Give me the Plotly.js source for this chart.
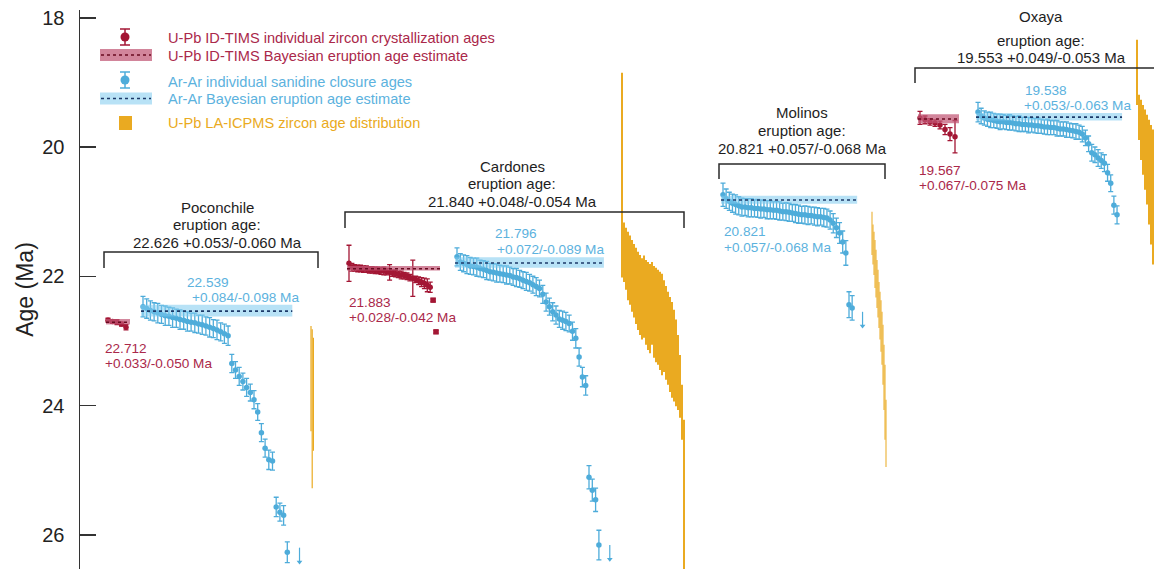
<!DOCTYPE html>
<html><head><meta charset="utf-8">
<script src="https://cdn.plot.ly/plotly-3.0.1.min.js"></script>
<style>html,body{margin:0;padding:0;background:#fff}#chart{width:1154px;height:569px}</style>
</head><body><div id="chart"></div>
<script>
// ================= DATA =================
const localities = ['Poconchile', 'Cardones', 'Molinos', 'Oxaya'];
const eruptionAge   = [22.626, 21.840, 20.821, 19.553];
const eruptionPlus  = [0.053, 0.048, 0.057, 0.049];
const eruptionMinus = [0.060, 0.054, 0.068, 0.053];

// U-Pb ID-TIMS Bayesian eruption estimates (null = no data)
const timsBayes = [22.712, 21.883, null, 19.567];
const timsPlus  = [0.033, 0.028, null, 0.067];
const timsMinus = [0.050, 0.042, null, 0.075];
// Ar-Ar Bayesian eruption estimates
const arBayes = [22.539, 21.796, 20.821, 19.538];
const arPlus  = [0.084, 0.072, 0.057, 0.053];
const arMinus = [0.098, 0.089, 0.068, 0.063];

// U-Pb ID-TIMS individual zircon ages (Ma) and 2σ
const pocTimsAge = [22.68, 22.70, 22.71, 22.74, 22.79];
const pocTimsErr = [0.03, 0.03, 0.04, 0.03, 0.04];
const carTimsAge = [21.80, 21.86, 21.87, 21.88, 21.88, 21.89, 21.89, 21.90, 21.90, 21.91, 21.91, 21.92, 21.92, 21.93, 21.94, 21.95, 21.96, 21.97, 21.98, 21.99, 22.00, 22.02, 22.03, 22.05, 22.07, 22.09, 22.11, 22.14, 22.17, 22.37, 22.86];
const carTimsErr = [0.28, 0.06, 0.05, 0.05, 0.05, 0.05, 0.05, 0.05, 0.05, 0.05, 0.05, 0.05, 0.06, 0.05, 0.12, 0.05, 0.05, 0.05, 0.06, 0.05, 0.05, 0.05, 0.28, 0.05, 0.06, 0.07, 0.08, 0.10, 0.08, 0.02, 0.02];
const oxaTimsAge = [19.55, 19.58, 19.61, 19.63, 19.66, 19.73, 19.80, 19.84];
const oxaTimsErr = [0.10, 0.06, 0.05, 0.05, 0.06, 0.08, 0.10, 0.25];

// Ar-Ar individual sanidine ages (Ma) and 2σ
const pocArAge = [22.47, 22.50, 22.53, 22.55, 22.57, 22.59, 22.61, 22.62, 22.64, 22.65, 22.67, 22.68, 22.70, 22.71, 22.72, 22.74, 22.75, 22.77, 22.79, 22.81, 22.83, 22.86, 22.89, 22.92, 23.35, 23.45, 23.55, 23.63, 23.72, 23.80, 23.91, 24.10, 24.42, 24.66, 24.84, 24.86, 25.57, 25.65, 25.70, 26.27];
const pocArErr = [0.16, 0.15, 0.15, 0.14, 0.15, 0.14, 0.15, 0.14, 0.15, 0.14, 0.15, 0.14, 0.15, 0.14, 0.15, 0.14, 0.15, 0.14, 0.15, 0.14, 0.15, 0.14, 0.15, 0.15, 0.14, 0.13, 0.14, 0.13, 0.14, 0.13, 0.14, 0.13, 0.14, 0.14, 0.15, 0.14, 0.15, 0.14, 0.15, 0.16];
const carArAge = [21.70, 21.78, 21.80, 21.82, 21.84, 21.85, 21.86, 21.88, 21.89, 21.91, 21.93, 21.94, 21.95, 21.96, 21.97, 21.98, 21.99, 22.01, 22.02, 22.04, 22.06, 22.08, 22.10, 22.13, 22.16, 22.19, 22.28, 22.40, 22.47, 22.55, 22.60, 22.66, 22.68, 22.70, 22.73, 22.85, 22.96, 23.25, 23.56, 23.69, 25.11, 25.31, 25.46, 26.16];
const carArErr = [0.14, 0.13, 0.13, 0.14, 0.13, 0.13, 0.14, 0.13, 0.13, 0.14, 0.13, 0.13, 0.14, 0.13, 0.13, 0.14, 0.13, 0.13, 0.14, 0.13, 0.13, 0.14, 0.13, 0.13, 0.14, 0.13, 0.14, 0.14, 0.13, 0.14, 0.14, 0.13, 0.14, 0.14, 0.13, 0.14, 0.15, 0.14, 0.15, 0.15, 0.18, 0.17, 0.18, 0.23];
const molArAge = [20.74, 20.80, 20.84, 20.87, 20.89, 20.91, 20.93, 20.93, 20.94, 20.94, 20.95, 20.95, 20.96, 20.96, 20.97, 20.97, 20.98, 20.98, 20.99, 21.00, 21.00, 21.01, 21.02, 21.03, 21.04, 21.05, 21.05, 21.06, 21.06, 21.07, 21.08, 21.08, 21.09, 21.10, 21.13, 21.18, 21.25, 21.33, 21.47, 21.64, 22.44, 22.49];
const molArErr = [0.18, 0.15, 0.14, 0.14, 0.15, 0.14, 0.14, 0.13, 0.14, 0.14, 0.13, 0.14, 0.14, 0.13, 0.14, 0.14, 0.13, 0.14, 0.14, 0.13, 0.14, 0.14, 0.13, 0.14, 0.14, 0.13, 0.14, 0.14, 0.13, 0.14, 0.14, 0.13, 0.14, 0.14, 0.14, 0.15, 0.15, 0.16, 0.17, 0.19, 0.20, 0.19];
const oxaArAge = [19.46, 19.52, 19.55, 19.57, 19.58, 19.59, 19.60, 19.61, 19.61, 19.62, 19.62, 19.63, 19.64, 19.64, 19.65, 19.65, 19.66, 19.66, 19.67, 19.67, 19.68, 19.69, 19.69, 19.70, 19.70, 19.71, 19.72, 19.72, 19.73, 19.74, 19.75, 19.76, 19.77, 19.80, 19.86, 19.95, 20.09, 20.12, 20.17, 20.21, 20.25, 20.40, 20.56, 20.90, 21.05];
const oxaArErr = [0.15, 0.12, 0.11, 0.11, 0.12, 0.11, 0.11, 0.12, 0.11, 0.11, 0.12, 0.11, 0.11, 0.12, 0.11, 0.11, 0.12, 0.11, 0.11, 0.12, 0.11, 0.11, 0.12, 0.11, 0.11, 0.12, 0.11, 0.11, 0.12, 0.11, 0.11, 0.12, 0.11, 0.12, 0.12, 0.12, 0.13, 0.12, 0.13, 0.12, 0.13, 0.13, 0.13, 0.14, 0.14];
// Ar-Ar grains older than the plotted range (arrow markers)
const arOffscaleAge = [26.42, 26.38, 22.77, null];

// U-Pb LA-ICPMS zircon age distribution: young / old bounds of each grain (Ma)
const pocLaYoung = [22.77, 22.82, 22.95];
const pocLaOld   = [24.40, 25.28, 24.70];
const carLaYoung = [18.85, 21.17, 21.25, 21.31, 21.37, 21.44, 21.50, 21.56, 21.62, 21.67, 21.72, 21.68, 21.75, 21.78, 21.81, 21.78, 21.84, 21.87, 21.90, 21.93, 21.96, 22.06, 22.15, 22.24, 22.32, 22.40, 22.52, 22.67, 22.91, 23.22, 23.68, 24.22];
const carLaOld   = [22.02, 22.09, 22.21, 22.37, 22.44, 22.55, 22.64, 22.74, 22.83, 22.91, 22.98, 22.95, 23.06, 23.14, 23.19, 23.06, 23.26, 23.33, 23.37, 23.45, 23.53, 23.48, 23.60, 23.68, 23.79, 23.88, 23.94, 24.01, 24.07, 24.19, 24.53, 26.62];
const molLaYoung = [21.00, 21.20, 21.31, 21.44, 21.59, 21.75, 21.90, 22.09, 22.24, 22.37, 22.55, 22.75, 23.06, 23.37, 23.91];
const molLaOld   = [21.67, 21.82, 21.98, 22.18, 22.33, 22.49, 22.64, 22.80, 22.98, 23.17, 23.37, 23.68, 24.07, 24.53, 24.95];
const oxaLaYoung = [18.34, 19.19, 19.27, 19.35, 19.42, 19.50, 19.58, 19.66, 19.73];
const oxaLaOld   = [19.35, 19.89, 20.20, 20.43, 20.66, 20.89, 21.20, 21.51, 21.82];

const yTicks = [18, 20, 22, 24, 26];

// ================= STYLE / LAYOUT CONSTANTS =================
const F = 'Liberation Sans, Arial, Helvetica, sans-serif';
const RED = 'rgb(163,22,52)', RED_TXT = 'rgb(170,40,74)', RED_BAND = 'rgba(192,86,116,0.72)', RED_DOT = 'rgb(105,10,32)';
const BLUE = 'rgb(78,172,218)', BLUE_TXT = 'rgb(92,178,222)', BLUE_BAND = 'rgba(125,202,238,0.55)', BLUE_DOT = 'rgb(28,58,105)';
const GOLD = 'rgb(234,170,33)';
// horizontal placement (x axis expressed in page pixels)
const timsX = [[108, 4.5], [349, 2.9], null, [920, 5.0]];
const arX   = [[143, 3.7], [457, 3.3], [723, 3.15], [978, 3.16]];
const laX   = [[311, 1.2], [622, 2.0], [872, 1.0], [1137, 2.0]];
const yp = v => 1 - (v - 10) / 559;   // page row -> paper fraction

const timsAges = [pocTimsAge, carTimsAge, null, oxaTimsAge];
const timsErrs = [pocTimsErr, carTimsErr, null, oxaTimsErr];
const arAges = [pocArAge, carArAge, molArAge, oxaArAge];
const arErrs = [pocArErr, carArErr, molArErr, oxaArErr];
const laYoung = [pocLaYoung, carLaYoung, molLaYoung, oxaLaYoung];
const laOld = [pocLaOld, carLaOld, molLaOld, oxaLaOld];

const xsOf = (p, n) => Array.from({length: n}, (_, i) => p[0] + i * p[1]);

function pts(p, ages, errs, color, symbols) {
  return {type: 'scatter', mode: 'markers', x: xsOf(p, ages.length), y: ages,
    error_y: {type: 'data', array: errs, visible: true, color: color, thickness: 1.3, width: 2.5},
    marker: {color: color, size: 5.5, symbol: symbols || 'circle', line: {width: 0}},
    hoverinfo: 'skip', showlegend: false};
}
function band(xa, xb, c, plus, minus, fill, dot) {
  return [
    {type: 'scatter', mode: 'lines', x: [xa, xb, xb, xa, xa], y: [c - minus, c - minus, c + plus, c + plus, c - minus],
      fill: 'toself', fillcolor: fill, line: {width: 0}, hoverinfo: 'skip', showlegend: false},
    {type: 'scatter', mode: 'lines', x: [xa, xb], y: [c, c], line: {color: dot, width: 1.6, dash: 'dot'},
      hoverinfo: 'skip', showlegend: false}
  ];
}

const traces = [];
// LA-ICPMS distributions
for (let k = 0; k < 4; k++) {
  const yg = laYoung[k], od = laOld[k];
  traces.push({type: 'bar', x: xsOf(laX[k], yg.length), base: yg, y: od.map((o, i) => o - yg[i]),
    width: laX[k][1], marker: {color: GOLD, line: {width: 0}}, hoverinfo: 'skip', showlegend: false});
}
// individual ages
for (let k = 0; k < 4; k++) {
  const a = arAges[k];
  traces.push(pts(arX[k], a, arErrs[k], BLUE));
  if (timsAges[k]) {
    const t = timsAges[k];
    const sym = t.map((v, i) => (k === 1 && i >= t.length - 2) ? 'square' : 'circle');
    traces.push(pts(timsX[k], t, timsErrs[k], RED, sym));
  }
  if (arOffscaleAge[k] !== null) {
    traces.push({type: 'scatter', mode: 'markers', x: [arX[k][0] + (a.length + 2.3) * arX[k][1]], y: [arOffscaleAge[k]],
      marker: {symbol: 'triangle-down', size: 5, color: BLUE},
      error_y: {type: 'data', symmetric: false, array: [0], arrayminus: [0.22], width: 0, thickness: 1.2, color: BLUE},
      hoverinfo: 'skip', showlegend: false});
  }
}
// Bayesian bands
for (let k = 0; k < 4; k++) {
  const a = arAges[k], p = arX[k];
  traces.push(...band(p[0] - 2, p[0] + (a.length - 1) * p[1] + 5, arBayes[k], arPlus[k], arMinus[k], BLUE_BAND, BLUE_DOT));
  if (timsBayes[k] !== null) {
    const t = timsAges[k], q = timsX[k];
    traces.push(...band(q[0] - 2, q[0] + (t.length - 1) * q[1] + 4, timsBayes[k], timsPlus[k], timsMinus[k], RED_BAND, RED_DOT));
  }
}

// ================= ANNOTATIONS & SHAPES =================
const fmt = (a, p, m) => `${a.toFixed(3)} +${p.toFixed(3)}/-${m.toFixed(3)} Ma`;
const pm = (p, m) => `+${p.toFixed(3)}/-${m.toFixed(3)} Ma`;
const ann = [];
function txt(text, x, row, size, color, xanchor) {
  ann.push({text: text, x: x, y: yp(row), xref: 'x', yref: 'paper', xanchor: xanchor || 'left', yanchor: 'middle',
    showarrow: false, font: {family: F, size: size, color: color}});
}
// eruption labels: [center x, rows of the three lines]
const eruptPos = [[217, [207, 224.5, 242]], [512, [166, 183.5, 201]], [802, [113, 130.5, 148]], [1041, [17, 40, 57.5]]];
for (let k = 0; k < 4; k++) {
  const [cx, r] = eruptPos[k];
  txt(localities[k], cx, r[0], 15, '#1e1e1e', 'center');
  txt('eruption age:', cx, r[1], 15, '#1e1e1e', 'center');
  txt(fmt(eruptionAge[k], eruptionPlus[k], eruptionMinus[k]), cx, r[2], 15, '#1e1e1e', 'center');
}
// brackets
const brackets = [[104, 318, 252, 268], [345, 684, 212, 228], [719, 885, 164, 179], [915, 1170, 68, 83]];
const shapes = brackets.map(b => ({type: 'path', xref: 'x', yref: 'paper',
  path: `M${b[0]},${yp(b[3])} L${b[0]},${yp(b[2])} L${b[1]},${yp(b[2])} L${b[1]},${yp(b[3])}`,
  line: {color: '#2a2a2a', width: 1.5}}));
// Bayesian estimate labels
const timsLab = [[103, 348], [347, 302], null, [917, 170]];
for (let k = 0; k < 4; k++) {
  if (!timsLab[k]) continue;
  txt(timsBayes[k].toFixed(3), timsLab[k][0], timsLab[k][1], 13.6, RED_TXT);
  txt(pm(timsPlus[k], timsMinus[k]), timsLab[k][0], timsLab[k][1] + 15.5, 13.6, RED_TXT);
}
const arLab = [[185, 282, 190], [493, 234, 495], [722, 232, 722], [1023, 90, 1022]];
for (let k = 0; k < 4; k++) {
  txt(arBayes[k].toFixed(3), arLab[k][0], arLab[k][1], 13.6, BLUE_TXT);
  txt(pm(arPlus[k], arMinus[k]), arLab[k][2], arLab[k][1] + 15.5, 13.6, BLUE_TXT);
}
// manual legend
const LF = 14.6;
txt('U-Pb ID-TIMS individual zircon crystallization ages', 166, 38, LF, RED_TXT);
txt('U-Pb ID-TIMS Bayesian eruption age estimate', 166, 56, LF, RED_TXT);
txt('Ar-Ar individual sanidine closure ages', 166, 82, LF, BLUE_TXT);
txt('Ar-Ar Bayesian eruption age estimate', 166, 99, LF, BLUE_TXT);
txt('U-Pb LA-ICPMS zircon age distribution', 166, 123, LF, GOLD);
function legPoint(row, color) {
  shapes.push({type: 'line', xref: 'x', yref: 'paper', x0: 125, x1: 125, y0: yp(row - 8), y1: yp(row + 8), line: {color: color, width: 1.5}});
  shapes.push({type: 'line', xref: 'x', yref: 'paper', x0: 120, x1: 130, y0: yp(row - 8), y1: yp(row - 8), line: {color: color, width: 1.5}});
  shapes.push({type: 'line', xref: 'x', yref: 'paper', x0: 120, x1: 130, y0: yp(row + 8), y1: yp(row + 8), line: {color: color, width: 1.5}});
  shapes.push({type: 'circle', xref: 'x', yref: 'paper', x0: 120.5, x1: 129.5, y0: yp(row + 4.5), y1: yp(row - 4.5), fillcolor: color, line: {width: 0}});
}
function legBand(row, fill, dot) {
  shapes.push({type: 'rect', xref: 'x', yref: 'paper', x0: 100, x1: 152, y0: yp(row + 6), y1: yp(row - 6), fillcolor: fill, line: {width: 0}});
  shapes.push({type: 'line', xref: 'x', yref: 'paper', x0: 101, x1: 151, y0: yp(row), y1: yp(row), line: {color: dot, width: 1.6, dash: 'dot'}});
}
legPoint(37, RED); legBand(55, RED_BAND, RED_DOT);
legPoint(80, BLUE); legBand(98.5, BLUE_BAND, BLUE_DOT);
shapes.push({type: 'rect', xref: 'x', yref: 'paper', x0: 119, x1: 132, y0: yp(130), y1: yp(116), fillcolor: GOLD, line: {width: 0}});

const layout = {
  width: 1154, height: 569,
  margin: {l: 80, r: 0, t: 10, b: 0, pad: 0},
  paper_bgcolor: '#fff', plot_bgcolor: '#fff',
  showlegend: false, barmode: 'overlay',
  font: {family: F, color: '#222'},
  xaxis: {range: [80, 1154], visible: false, fixedrange: true},
  yaxis: {range: [26.53, 17.88], tickvals: yTicks, ticktext: yTicks.map(String),
    ticks: 'inside', ticklen: 16, tickwidth: 1.5, tickcolor: '#333',
    showline: true, linecolor: '#333', linewidth: 1.5, showgrid: false, zeroline: false,
    tickfont: {size: 20, color: '#222', family: F}, ticklabelstandoff: 10,
    title: {text: 'Age (Ma)', font: {size: 23, color: '#222', family: F}, standoff: 2}},
  shapes: shapes, annotations: ann
};
Plotly.newPlot('chart', traces, layout, {staticPlot: true, displayModeBar: false});
</script></body></html>
